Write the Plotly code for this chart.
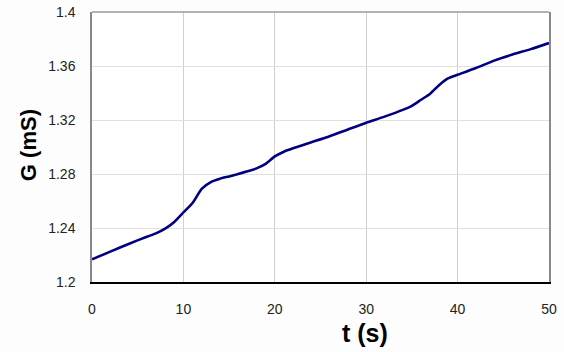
import plotly.graph_objects as go

t_values = [0, 2, 4, 6, 7, 8, 9, 10, 11, 12, 13, 14, 15, 16, 17, 18, 19, 20, 21, 22,
            24, 26, 28, 30, 32, 34, 35, 36, 37, 38, 39, 40, 42, 44, 46, 48, 50]
g_values = [1.2168, 1.2225, 1.2282, 1.2335, 1.2360, 1.2395, 1.2445, 1.2515, 1.2585,
            1.2690, 1.2740, 1.2765, 1.2782, 1.2800, 1.2820, 1.2842, 1.2875, 1.2930,
            1.2965, 1.2990, 1.3035, 1.3080, 1.3130, 1.3180, 1.3225, 1.3275, 1.3305,
            1.3350, 1.3395, 1.3460, 1.3510, 1.3535, 1.3585, 1.3640, 1.3685, 1.3725,
            1.3770]
y_ticks = [1.2, 1.24, 1.28, 1.32, 1.36, 1.4]
y_tick_labels = ["1.2", "1.24", "1.28", "1.32", "1.36", "1.4"]
x_ticks = [0, 10, 20, 30, 40, 50]

fig = go.Figure()
fig.add_trace(go.Scatter(x=t_values, y=g_values, mode="lines",
                         line=dict(color="#00007f", width=2.6, shape="spline", smoothing=0.6),
                         showlegend=False, hoverinfo="skip"))

font = dict(family="Liberation Sans, Arial, sans-serif", size=14, color="#222222")

fig.update_layout(
    width=564, height=352,
    margin=dict(l=92, r=15, t=12, b=70, autoexpand=False),
    paper_bgcolor="#fdfdfd", plot_bgcolor="#ffffff",
    font=font,
    xaxis=dict(range=[0, 50], tickvals=x_ticks, showgrid=True, gridcolor="#d0d0d0",
               gridwidth=1, showline=True, linecolor="#000000", linewidth=1.5,
               zeroline=False, ticks="outside", ticklen=13, tickcolor="rgba(0,0,0,0)",
               tickfont=font, automargin=False),
    yaxis=dict(range=[1.2, 1.4], tickvals=y_ticks, ticktext=y_tick_labels,
               showgrid=True, gridcolor="#e0e0e0", gridwidth=1, showline=True,
               linecolor="#888888", linewidth=1.5, mirror=True, zeroline=False,
               ticks="outside", ticklen=12, tickcolor="rgba(0,0,0,0)", tickfont=font,
               automargin=False),
    shapes=[dict(type="line", xref="paper", yref="paper", x0=0, x1=1, y0=1, y1=1,
                 line=dict(color="#999999", width=1.5))],
    annotations=[
        dict(text="<b>t (s)</b>", xref="paper", yref="paper", x=0.597, y=-0.19,
             xanchor="center", yanchor="middle", showarrow=False,
             font=dict(family="Liberation Sans, Arial, sans-serif", size=25, color="#000000")),
        dict(text="<b>G (mS)</b>", xref="paper", yref="paper", x=-0.14, y=0.507,
             xanchor="center", yanchor="middle", textangle=-90, showarrow=False,
             font=dict(family="Liberation Sans, Arial, sans-serif", size=22, color="#000000")),
    ],
)

fig.write_html("out.html")
